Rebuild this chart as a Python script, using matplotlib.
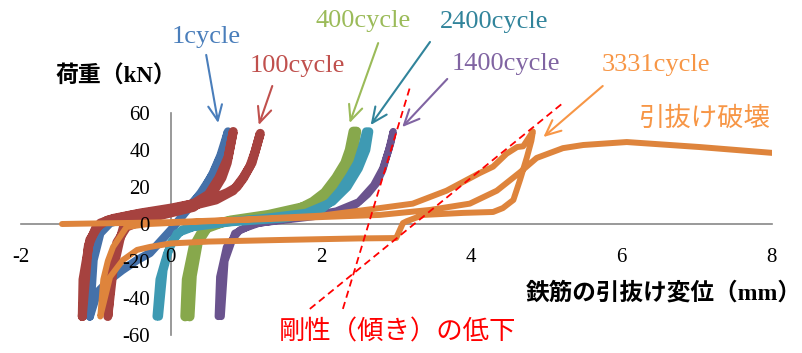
import matplotlib
matplotlib.use("Agg")
import matplotlib.pyplot as plt

plt.rcParams['axes.unicode_minus'] = False

# load-displacement loops (x: mm, y: kN)
blue_x = [-1.08, -1.05, -1.03, -0.94, -0.81, -0.5, 0.0, 0.25, 0.42, 0.56, 0.66, 0.76,
          0.70, 0.56, 0.40, 0.25, 0.0, -0.28, -0.45, -0.65, -0.81, -0.98, -1.08]
blue_y = [-50, -32, -19.5, -5, 0.5, 4, 7, 10, 17, 27.6, 37, 50,
          40, 27, 17, 9.2, -3.2, -15.7, -19.5, -25, -30, -37, -50]

red_x = [-1.18, -1.17, -1.08, -0.94, -0.77, -0.4, 0.0, 0.3, 0.52, 0.75, 0.88, 0.97, 1.05, 1.12, 1.19,
         1.08, 0.96, 0.83, 0.6, 0.3, 0.0, -0.4, -0.62, -0.68, -0.77, -0.84,
         -0.80, -0.72, -0.59, -0.3, 0.0, 0.3, 0.56, 0.68, 0.75, 0.83,
         0.76, 0.64, 0.5, 0.3, 0.0, -0.5, -0.85, -1.0, -1.1, -1.18]
red_y = [-50, -30, -8.6, 0.5, 3, 6, 8.6, 11, 13, 17, 20, 25, 31, 39, 49,
         33, 25, 18, 13, 10, 7, 4, 0, -8.6, -25, -50,
         -30, -10, -1.6, 3, 6, 9, 17, 25, 33, 50,
         36, 25, 16, 11, 8, 5, 2, -2, -12, -50]

green_x = [0.19, 0.21, 0.30, 0.43, 0.7, 1.2, 1.6, 1.89, 2.05, 2.2, 2.32, 2.38, 2.43,
           2.47, 2.42, 2.33, 2.15, 1.85, 1.3, 0.8, 0.5, 0.36, 0.28, 0.25]
green_y = [-50, -30, -12.4, -3, 1, 3.5, 6, 12, 17, 25, 33, 40, 50,
           50, 38, 28, 18, 10, 5, 2, -1, -10, -28, -50]

purple_x = [0.63, 0.65, 0.74, 0.92, 1.18, 1.8, 2.3, 2.48, 2.62, 2.74, 2.82, 2.87, 2.93, 2.96,
            2.90, 2.82, 2.70, 2.50, 2.2, 1.6, 1.1, 0.85, 0.72, 0.67]
purple_y = [-50, -28.6, -12.4, -3.2, 0.5, 3.5, 6, 11, 16, 22, 29, 36, 44, 50,
            40, 30, 21, 12, 7, 3, 0, -5, -20, -50]

teal_x = [-0.19, -0.15, -0.05, 0.08, 0.3, 0.8, 1.5, 1.95, 2.1, 2.25, 2.38, 2.48, 2.55, 2.60,
          2.64, 2.60, 2.50, 2.35, 2.15, 1.8, 1.2, 0.5, 0.15, 0.0, -0.1, -0.16]
teal_y = [-50, -30, -16, -5, -1.6, 1, 3, 6, 11, 18, 26, 33, 42, 50,
          50, 40, 30, 20, 12, 6, 3, 0.5, -3, -10, -25, -50]

orange_x = [-1.45, -1.0, -0.5, 0.0, 1.0, 2.0, 2.78, 3.22, 3.67, 4.11, 4.29, 4.47, 4.61, 4.69, 4.74, 4.82,
            4.80, 4.74, 4.65, 4.56, 4.42, 4.29, 3.89, 3.36, 3.14, 3.09, 3.0, 2.5, 1.5, 0.5, 0.0,
            -0.28, -0.45, -0.64, -0.81, -0.94, -0.90, -0.84, -0.77, -0.59, -0.3, 0.5, 1.5, 2.5,
            2.78, 3.45, 3.98, 4.34, 4.65, 4.87, 5.22, 5.49, 6.07, 7.04, 8.02]
orange_y = [0, 0.3, 0.6, 1, 2.5, 4.5, 8.6, 11, 18, 27.5, 31, 38, 41.6, 42, 45, 50,
            45, 36, 24, 13, 8.6, 6.5, 6, 4.9, 1.5, 0.5, -7.6, -7.8, -8.6, -9.5, -10.5,
            -12.4, -14, -19.5, -28.6, -50, -30, -20, -12.4, -1.6, 0, 1.5, 3, 4.5,
            4.9, 7.6, 11, 18, 28, 35.7, 41, 42.7, 44.3, 41.6, 38.4]

x_ticks = [-2, 0, 2, 4, 6, 8]
y_ticks = [-60, -40, -20, 0, 20, 40, 60]

# cycle labels: text, colour, text pos, arrow tail, arrow head
labels = [
    ("1cycle", "#4a7ebb", (0.01, 101), (0.47, 91.4), (0.63, 54.6)),
    ("100cycle", "#c0504d", (1.05, 85.4), (1.35, 74.6), (1.17, 53.5)),
    ("400cycle", "#9bbb59", (1.92, 109.7), (2.76, 97.8), (2.38, 54.6)),
    ("2400cycle", "#31849b", (3.58, 109.2), (3.45, 98.4), (2.66, 53.5)),
    ("1400cycle", "#8064a2", (3.74, 86.5), (3.68, 78.4), (3.08, 52.4)),
    ("3331cycle", "#f79646", (5.74, 85.9), (5.75, 74.6), (4.96, 47.0)),
]

# stiffness lines (red dashes)
stiff1_x = [2.29, 3.18]
stiff1_y = [-45.9, 73.5]
stiff2_x = [1.85, 5.22]
stiff2_y = [-45.9, 65.4]

serif = ['Liberation Serif', 'Noto Sans CJK JP']

fig = plt.figure(figsize=(8.03, 3.53), dpi=100)
ax = fig.add_axes([20.7 / 803, 18 / 353, 751 / 803, 222 / 353])

lw_kw = dict(solid_capstyle='round', solid_joinstyle='round')
ax.plot(blue_x, blue_y, color="#4571a9", lw=6, **lw_kw)
ax.plot(red_x, red_y, color="#a6423f", lw=6.5, **lw_kw)
ax.plot(green_x, green_y, color="#87a84c", lw=7, **lw_kw)
ax.plot(purple_x, purple_y, color="#6a538e", lw=5.2, **lw_kw)
ax.plot(teal_x, teal_y, color="#3e9ab3", lw=6, **lw_kw)
ax.plot(orange_x, orange_y, color="#de843c", lw=4.3, **lw_kw)

ax.plot(stiff1_x, stiff1_y, color="red", lw=1.3, ls=(0, (4, 2.5)), clip_on=False)
ax.plot(stiff2_x, stiff2_y, color="red", lw=1.3, ls=(0, (4, 2.5)), clip_on=False)

ax.set_xlim(-2, 8)
ax.set_ylim(-60, 60)

for s in ['top', 'right']:
    ax.spines[s].set_visible(False)
ax.spines['left'].set_position(('data', 0))
ax.spines['bottom'].set_position(('data', 0))
for s in ['left', 'bottom']:
    ax.spines[s].set_color("#888888")
    ax.spines[s].set_linewidth(1.2)
    ax.spines[s].set_zorder(1)
ax.set_axisbelow(False)

ax.set_xticks(x_ticks)
ax.set_yticks(y_ticks)
ax.set_xticklabels([str(v) for v in x_ticks], family=serif, fontsize=15)
ax.set_yticklabels([str(v) for v in y_ticks], family=serif, fontsize=15)
ax.tick_params(axis='x', length=0, pad=17)
ax.tick_params(axis='y', length=0, pad=15)

for text, col, tpos, tail, head in labels:
    ax.text(tpos[0], tpos[1], text, color=col, family=serif, fontsize=19,
            ha='left', va='center', clip_on=False)
    ax.annotate("", xy=head, xytext=tail, annotation_clip=False,
                arrowprops=dict(arrowstyle="->,head_length=1.1,head_width=0.5",
                                color=col, lw=1.5, shrinkA=0, shrinkB=0))

ax.text(6.22, 56.8, "引抜け破壊", color="#f79646", family=serif, fontsize=19,
        ha='left', va='center')
ax.text(1.43, -58.4, "剛性（傾き）の低下", color="red", family=serif, fontsize=19,
        ha='left', va='center', clip_on=False)
ax.text(-1.54, 79.5, "荷重（kN）", color="black", family=serif, fontsize=16.5,
        fontweight='bold', ha='left', va='center', clip_on=False)
ax.text(4.72, -37.3, "鉄筋の引抜け変位（mm）", color="black", family=serif, fontsize=17,
        fontweight='bold', ha='left', va='center', clip_on=False)

fig.savefig("out.png", dpi=100)
